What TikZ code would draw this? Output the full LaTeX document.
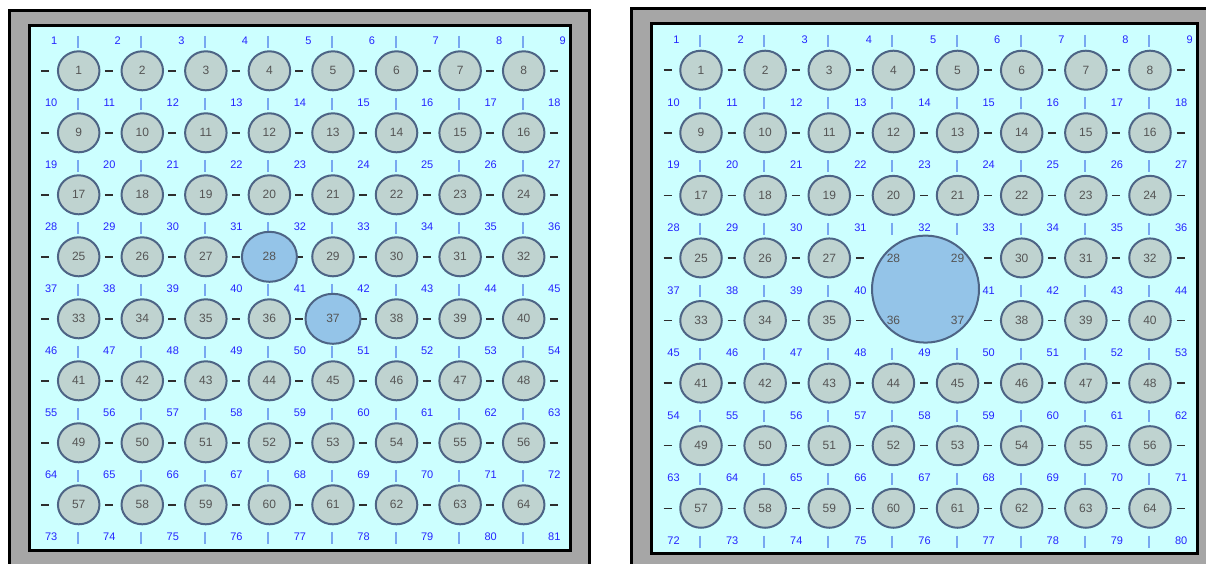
\documentclass[tikz,border=0pt]{standalone}
\usepackage{fontspec}
\setmainfont{Liberation Sans}
\usetikzlibrary{shapes.geometric}
\definecolor{bgcyan}{HTML}{CCFFFF}
\definecolor{band}{HTML}{A6A6A6}
\definecolor{cellfill}{HTML}{BFD3D0}
\definecolor{cellborder}{HTML}{4D6485}
\definecolor{bigfill}{HTML}{94C4E8}
\definecolor{tickblue}{HTML}{78A8F0}
\definecolor{portblue}{HTML}{2424FF}
\definecolor{cellnum}{HTML}{555555}
\definecolor{dashcol}{HTML}{2E2E2E}
\tikzset{
  frame/.style={draw=black, line width=3pt},
  tickline/.style={draw=tickblue, line width=2pt},
  dashline/.style={draw=dashcol, line width=1.5pt},
  cell/.style={ellipse, draw=cellborder, line width=2pt, fill=cellfill, minimum width=41.5pt, minimum height=39pt, inner sep=0pt, text=cellnum, font=\fontsize{12}{12}\selectfont},
  bigL/.style={cell, fill=bigfill, minimum width=55pt, minimum height=50pt},
  bigR/.style={circle, draw=cellborder, line width=2pt, fill=bigfill, minimum size=107pt, inner sep=0pt},
  cellnumtext/.style={inner sep=0pt, text=cellnum, font=\fontsize{12}{12}\selectfont},
  port/.style={inner sep=0pt, text=portblue, font=\fontsize{11}{12}\selectfont},
}
% #1 first tick x, #2 column spacing, #3 first row y, #4 row spacing
\newcommand\mygridlines[4]{%
  \foreach \kk in {0,...,8}{%
    \foreach \cc in {1,...,8}{%
      \pgfmathsetmacro\xx{#1+(\cc-1)*#2}%
      \pgfmathsetmacro\yy{#3+(\kk-0.5)*#4+2}%
      \draw[tickline] (\xx,\yy-6) -- (\xx,\yy+6);
    }%
  }%
  \foreach \ii in {0,...,7}{%
    \foreach \cc in {1,...,9}{%
      \pgfmathsetmacro\xx{#1+(\cc-1)*#2-32.5}%
      \pgfmathsetmacro\yy{#3+\ii*#4}%
      \draw[dashline] (\xx-4,\yy) -- (\xx+4,\yy);
    }%
  }%
}
\begin{document}
\begin{tikzpicture}[x=1pt,y=-1pt]
\useasboundingbox (0,0) rectangle (1206,564);
\clip (0,0) rectangle (1206,564);
\fill[white] (0,0) rectangle (1206,564);
% ---------------- left panel ----------------
\draw[frame, fill=band] (9.7,10.7) rectangle (589.5,580);
\draw[frame, fill=bgcyan] (29,25.3) rectangle (570,550.5);
\mygridlines{77.7}{63.57}{70.8}{62.0}
\foreach \ii in {0,...,7}{%
  \foreach \cc in {1,...,8}{%
    \pgfmathtruncatemacro\n{\ii*8+\cc}%
    \pgfmathsetmacro\xx{77.7+(\cc-1)*63.57+1}%
    \pgfmathsetmacro\yy{70.8+\ii*62.0}%
    \tikzset{cur/.style={cell}}%
    \ifnum\n=28 \tikzset{cur/.style={bigL}}\fi
    \ifnum\n=37 \tikzset{cur/.style={bigL}}\fi
    \node[cur] (L\n) at (\xx,\yy) {\n};
  }%
}
\foreach \kk in {0,...,8}{%
  \foreach \jj in {0,...,8}{%
    \pgfmathtruncatemacro\n{\kk*9+\jj+1}%
    \pgfmathsetmacro\off{(\n>9)*(8.5-5.5*(\jj==0))}%
    \pgfmathsetmacro\xx{77.7-23.5+\jj*63.57-\off}%
    \pgfmathsetmacro\yy{70.8+(\kk-0.5)*62.0+1}%
    \node[port] (Lp\n) at (\xx,\yy) {\n};
  }%
}
% ---------------- right panel ----------------
\draw[frame, fill=band] (631,8.3) rectangle (1220,580);
\draw[frame, fill=bgcyan] (651,23.3) rectangle (1197.7,553.8);
\mygridlines{700}{64.14}{70.2}{62.58}
\node[bigR] (Rbig) at (925.5,289.1) {};
\foreach \ii in {0,...,7}{%
  \foreach \cc in {1,...,8}{%
    \pgfmathtruncatemacro\n{\ii*8+\cc}%
    \pgfmathsetmacro\xx{700+(\cc-1)*64.14+1}%
    \pgfmathsetmacro\yy{70.2+\ii*62.58}%
    \pgfmathtruncatemacro\inbig{(\n==28)+(\n==29)+(\n==36)+(\n==37)}%
    \ifnum\inbig=0
      \node[cell] (R\n) at (\xx,\yy) {\n};
    \else
      \node[cellnumtext] (R\n) at (\xx,\yy) {\n};
    \fi
  }%
}
\foreach \kk in {0,...,8}{%
  \foreach \jj in {0,...,8}{%
    \pgfmathtruncatemacro\skipit{(\kk==4)*(\jj==4)}%
    \pgfmathtruncatemacro\n{\kk*9+\jj+1-((\kk*9+\jj)>40)}%
    \pgfmathsetmacro\off{(\n>9)*(8.5-5.5*(\jj==0))}%
    \pgfmathsetmacro\xx{700-23.5+\jj*64.14-\off}%
    \pgfmathsetmacro\yy{70.2+(\kk-0.5)*62.58+1}%
    \ifnum\skipit=0
      \node[port] (Rp\n) at (\xx,\yy) {\n};
    \fi
  }%
}
\end{tikzpicture}
\end{document}
